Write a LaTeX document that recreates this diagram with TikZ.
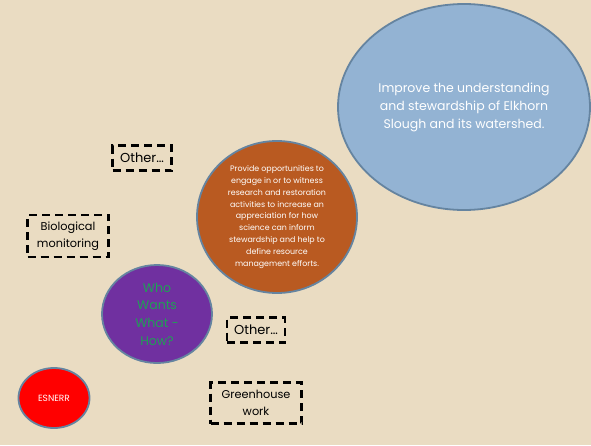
\documentclass[tikz,border=0pt]{standalone}
\usepackage{fontspec}
\setmainfont{Poppins}
\usetikzlibrary{shapes.geometric}
\definecolor{sand}{HTML}{EADCC2}
\definecolor{skyblue}{HTML}{93B3D3}
\definecolor{rim}{HTML}{6584A0}
\definecolor{rust}{HTML}{B95A21}
\definecolor{plum}{HTML}{7030A0}
\definecolor{leaf}{HTML}{1FA055}
\begin{document}
\begin{tikzpicture}[x=1pt,y=-1pt]
\tikzstyle{goal}=[draw=rim,line width=1.8pt,shape=ellipse,inner sep=0pt,align=center]
\tikzstyle{other}=[draw=black,line width=2.5pt,dash pattern=on 8pt off 5pt,inner sep=0pt,align=center,text=black,font=\fontsize{11.3}{17.5}\selectfont]
\useasboundingbox (0,0) rectangle (591,445);
\fill[sand] (0,0) rectangle (591,445);
% goals
\node[goal,fill=skyblue,minimum width=252pt,minimum height=206pt,text=white,font=\fontsize{12.5}{18}\selectfont] (vision) at (464,107) {Improve the understanding\\and stewardship of Elkhorn\\Slough and its watershed.};
\node[goal,fill=rust,minimum width=160pt,minimum height=152pt,text=white,font=\fontsize{7.9}{11.8}\selectfont] (engage) at (277,217) {Provide opportunities to\\engage in or to witness\\research and restoration\\activities to increase an\\appreciation for how\\science can inform\\stewardship and help to\\define resource\\management efforts.};
\node[goal,fill=plum,minimum width=110pt,minimum height=98pt,text=leaf,font=\fontsize{12.5}{17.7}\selectfont] (who) at (157,314) {Who\\Wants\\What -\\How?};
\node[goal,fill=red,minimum width=71pt,minimum height=60pt,text=white,font=\fontsize{9}{10}\selectfont] (esnerr) at (54,398) {ESNERR};
% dashed boxes
\node[other,minimum width=59pt,minimum height=25pt,font=\fontsize{13}{16}\selectfont] (other1) at (142,158) {Other…};
\node[other,minimum width=81pt,minimum height=42pt] (bio) at (68,236) {Biological\\monitoring};
\node[other,minimum width=58pt,minimum height=25pt,font=\fontsize{13}{16}\selectfont] (other2) at (256,330) {Other…};
\node[other,minimum width=91pt,minimum height=41pt] (green) at (256,403) {Greenhouse\\work};
\end{tikzpicture}
\end{document}
